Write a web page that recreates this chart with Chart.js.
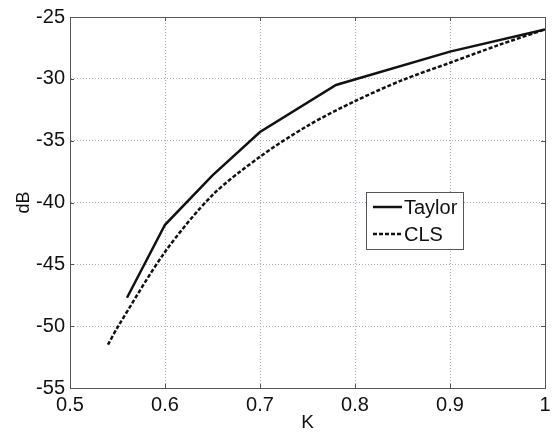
<!DOCTYPE html>
<html>
<head>
<meta charset="utf-8">
<script src="https://cdn.jsdelivr.net/npm/chart.js@4"></script>
<style>
  html, body { margin: 0; padding: 0; background: #fff; }
  #wrap { width: 558px; height: 435px; }
</style>
</head>
<body>
<div id="wrap"><canvas id="dbChart" width="558" height="435"></canvas></div>
<script>
// values
const kTaylor = [0.56, 0.60, 0.65, 0.70, 0.78, 0.90, 1.00];
const dbTaylor = [-47.7, -41.8, -37.8, -34.3, -30.5, -27.8, -26.0];
const kCls = [0.54, 0.55, 0.60, 0.65, 0.70, 0.75, 0.80, 0.85, 0.90, 0.95, 1.00];
const dbCls = [-51.5, -50.1, -44.0, -39.4, -36.3, -33.8, -31.8, -30.1, -28.7, -27.3, -26.0];
const xTicks = [0.5, 0.6, 0.7, 0.8, 0.9, 1];
const yTicks = [-55, -50, -45, -40, -35, -30, -25];

const fontFamily = "'Liberation Sans', Arial, sans-serif";

function toPoints(xs, ys) {
  return xs.map((x, i) => ({ x: x, y: ys[i] }));
}

// box round the plot area plus the small inward tick marks
const frame = {
  id: "frame",
  afterDraw(chart) {
    const a = chart.chartArea;
    const c = chart.ctx;
    const xs = chart.scales.x;
    const ys = chart.scales.y;
    c.save();
    c.strokeStyle = "#555";
    c.lineWidth = 1;
    c.strokeRect(a.left + 0.5, a.top + 0.5, a.right - a.left, a.bottom - a.top);
    c.beginPath();
    xTicks.forEach((v) => {
      const px = Math.round(xs.getPixelForValue(v)) + 0.5;
      c.moveTo(px, a.top);
      c.lineTo(px, a.top + 4);
      c.moveTo(px, a.bottom);
      c.lineTo(px, a.bottom - 4);
    });
    yTicks.forEach((v) => {
      const py = Math.round(ys.getPixelForValue(v)) + 0.5;
      c.moveTo(a.left, py);
      c.lineTo(a.left + 4, py);
      c.moveTo(a.right, py);
      c.lineTo(a.right - 4, py);
    });
    c.stroke();
    c.restore();
  },
};

// legend box drawn inside the plot, like the matlab one
const boxLegend = {
  id: "boxLegend",
  afterDraw(chart) {
    const c = chart.ctx;
    const x0 = 366, y0 = 192, w = 97, h = 57;
    c.save();
    c.fillStyle = "#fff";
    c.fillRect(x0, y0, w, h);
    c.strokeStyle = "#555";
    c.lineWidth = 1;
    c.strokeRect(x0 + 0.5, y0 + 0.5, w, h);
    c.font = "20px " + fontFamily;
    c.textBaseline = "middle";
    c.fillStyle = "#111";
    chart.data.datasets.forEach((ds, i) => {
      const y = y0 + 15 + i * 27;
      c.strokeStyle = ds.borderColor;
      c.lineWidth = 2.5;
      c.setLineDash(ds.borderDash || []);
      c.beginPath();
      c.moveTo(x0 + 7, y);
      c.lineTo(x0 + 36, y);
      c.stroke();
      c.setLineDash([]);
      c.fillText(ds.label, x0 + 38, y + 1);
    });
    c.restore();
  },
};

new Chart(document.getElementById("dbChart"), {
  type: "scatter",
  data: {
    datasets: [
      {
        label: "Taylor",
        data: toPoints(kTaylor, dbTaylor),
        showLine: true,
        borderColor: "#111",
        borderWidth: 2.5,
        pointRadius: 0,
        tension: 0,
      },
      {
        label: "CLS",
        data: toPoints(kCls, dbCls),
        showLine: true,
        borderColor: "#111",
        borderWidth: 2.5,
        borderDash: [4, 2],
        pointRadius: 0,
        tension: 0.3,
      },
    ],
  },
  options: {
    responsive: false,
    animation: false,
    layout: { padding: { top: 14, right: 13, left: 0, bottom: 0 } },
    plugins: {
      legend: { display: false },
      tooltip: { enabled: false },
    },
    scales: {
      x: {
        type: "linear",
        min: 0.5,
        max: 1,
        afterBuildTicks: (scale) => {
          scale.ticks = xTicks.map((v) => ({ value: v }));
        },
        afterFit: (scale) => {
          scale.height = 47;
        },
        grid: { color: "#b4a8c8", drawTicks: false, lineWidth: 1 },
        border: { color: "#555", dash: [1, 2] },
        ticks: {
          color: "#111",
          padding: 5,
          font: { family: fontFamily, size: 20 },
          callback: (value) => String(value),
        },
        title: {
          display: true,
          text: "K",
          color: "#111",
          padding: { top: 0, bottom: 1 },
          font: { family: fontFamily, size: 19 },
        },
      },
      y: {
        type: "linear",
        min: -55,
        max: -25,
        afterBuildTicks: (scale) => {
          scale.ticks = yTicks.map((v) => ({ value: v }));
        },
        afterFit: (scale) => {
          scale.width = 70;
        },
        grid: { color: "#b4a8c8", drawTicks: false, lineWidth: 1 },
        border: { color: "#555", dash: [1, 2] },
        ticks: {
          color: "#111",
          padding: 5,
          font: { family: fontFamily, size: 20 },
          callback: (value) => String(value),
        },
        title: {
          display: true,
          text: "dB",
          color: "#111",
          padding: { top: 13, bottom: 0 },
          font: { family: fontFamily, size: 18 },
        },
      },
    },
  },
  plugins: [frame, boxLegend],
});
</script>
</body>
</html>
